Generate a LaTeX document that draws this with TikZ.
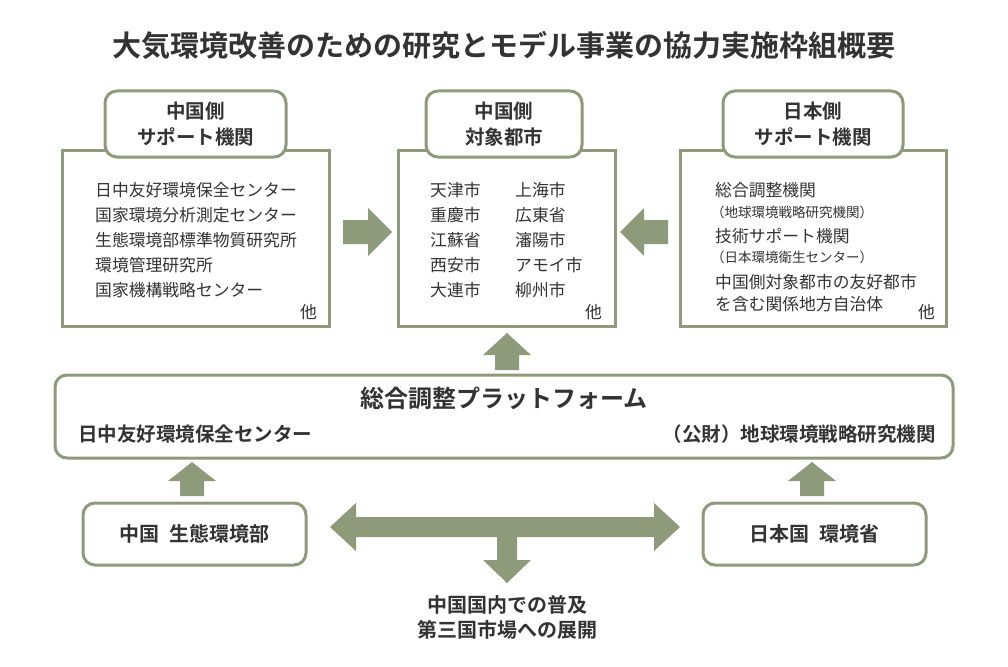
\documentclass[tikz,border=0pt]{standalone}
\usepackage{fontspec}
\setmainfont{Noto Sans CJK JP}[BoldFont={Noto Sans CJK JP Bold}]
\definecolor{frame}{HTML}{8E9A7A}
\definecolor{ink}{HTML}{333333}
\tikzset{
  panel/.style={draw=frame, line width=3pt, fill=white},
  tag/.style={draw=frame, line width=3pt, fill=white, rounded corners=12pt, align=center, font=\fontsize{19.5}{26}\selectfont\bfseries, text=ink},
  body/.style={anchor=west, inner sep=0pt, font=\fontsize{16.8}{18}\selectfont, text=ink},
  small/.style={anchor=west, inner sep=0pt, font=\fontsize{13.5}{15}\selectfont, text=ink},
  head/.style={inner sep=0pt, font=\fontsize{19.5}{22}\selectfont\bfseries, text=ink},
  blk/.style={fill=frame, draw=none},
}
\begin{document}
\begin{tikzpicture}[x=1pt,y=-1pt]
\useasboundingbox (0,0) rectangle (1008,666);

\node[inner sep=0pt, font=\fontsize{29}{32}\selectfont\bfseries, text=ink] (title) at (504,45) {大気環境改善のための研究とモデル事業の協力実施枠組概要};

% top panels
\draw[panel] (62,150) rectangle (329,326);
\draw[panel] (398,150) rectangle (615,326);
\draw[panel] (680,150) rectangle (946,326);
\node[tag, minimum width=181pt, minimum height=66pt] (cnsup) at (195.5,124) {中国側\\サポート機関};
\node[tag, minimum width=156pt, minimum height=66pt] (cncity) at (504,124) {中国側\\対象都市};
\node[tag, minimum width=180pt, minimum height=66pt] (jpsup) at (813,124) {日本側\\サポート機関};

\node[body] (l1) at (95,190) {日中友好環境保全センター};
\node[body] (l2) at (95,215) {国家環境分析測定センター};
\node[body] (l3) at (95,240) {生態環境部標準物質研究所};
\node[body] (l4) at (95,265) {環境管理研究所};
\node[body] (l5) at (95,290) {国家機構戦略センター};
\node[body] (lo) at (300,312) {他};

\node[body] (c1) at (430,190) {天津市};
\node[body] (c2) at (430,215) {重慶市};
\node[body] (c3) at (430,240) {江蘇省};
\node[body] (c4) at (430,265) {西安市};
\node[body] (c5) at (430,290) {大連市};
\node[body] (d1) at (515,190) {上海市};
\node[body] (d2) at (515,215) {広東省};
\node[body] (d3) at (515,240) {瀋陽市};
\node[body] (d4) at (515,265) {アモイ市};
\node[body] (d5) at (515,290) {柳州市};
\node[body] (co) at (585,312) {他};

\node[body] (r1) at (715,190) {総合調整機関};
\node[small] (r2) at (711,212) {（地球環境戦略研究機関）};
\node[body] (r3) at (715,236) {技術サポート機関};
\node[small] (r4) at (711,257) {（日本環境衛生センター）};
\node[body] (r5) at (715,282) {中国側対象都市の友好都市};
\node[body] (r6) at (715,304) {を含む関係地方自治体};
\node[body] (ro) at (918,312) {他};

% block arrows
\fill[blk] (343,220) -- (368,220) -- (368,208) -- (392,232) -- (368,256) -- (368,244) -- (343,244) -- cycle;
\fill[blk] (668,220) -- (644,220) -- (644,208) -- (620,232) -- (644,256) -- (644,244) -- (668,244) -- cycle;
\fill[blk] (495,370) -- (495,355) -- (483,355) -- (507,333) -- (531,355) -- (519,355) -- (519,370) -- cycle;

% platform
\draw[panel, rounded corners=12pt] (55,375) rectangle (953,458);
\node[inner sep=0pt, font=\fontsize{24}{26}\selectfont\bfseries, text=ink] (plat) at (504,398) {総合調整プラットフォーム};
\node[head, anchor=west] (platl) at (78,434) {日中友好環境保全センター};
\node[head, anchor=east] (platr) at (936,434) {（公財）地球環境戦略研究機関};

\fill[blk] (180,496) -- (180,481) -- (168,481) -- (192,462) -- (216,481) -- (204,481) -- (204,496) -- cycle;
\fill[blk] (800,496) -- (800,481) -- (788,481) -- (812,462) -- (836,481) -- (824,481) -- (824,496) -- cycle;

% bottom boxes
\node[tag, font=\fontsize{20}{22}\selectfont\bfseries, minimum width=223pt, minimum height=62pt] (cnmin) at (194.5,534) {中国\hspace{0.5em}生態環境部};
\node[tag, font=\fontsize{20}{22}\selectfont\bfseries, minimum width=223pt, minimum height=62pt] (jpmin) at (814.5,534) {日本国\hspace{0.5em}環境省};

\fill[blk] (330,527) -- (356,503) -- (356,517) -- (654,517) -- (654,503) -- (680,527) -- (654,551) -- (654,537) -- (356,537) -- (356,551) -- cycle;
\fill[blk] (497,537) -- (517,537) -- (517,560) -- (531,560) -- (507,583) -- (483,560) -- (497,560) -- cycle;

\node[head, align=center, font=\fontsize{20}{25}\selectfont\bfseries] (spread) at (507,617) {中国国内での普及\\第三国市場への展開};
\end{tikzpicture}
\end{document}
